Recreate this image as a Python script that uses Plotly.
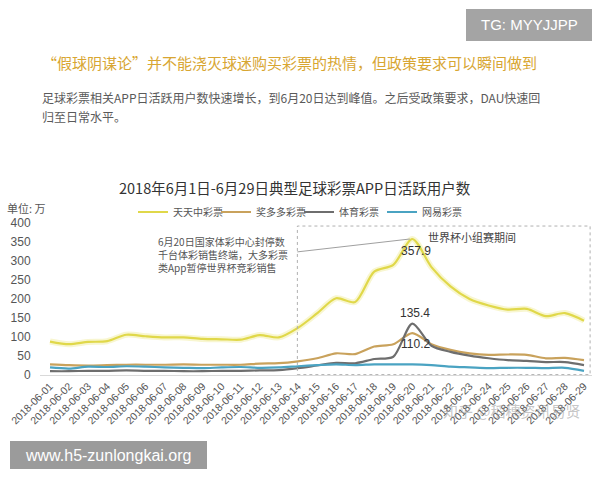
import plotly.graph_objects as go

dates = ["2018-06-01", "2018-06-02", "2018-06-03", "2018-06-04", "2018-06-05",
         "2018-06-06", "2018-06-07", "2018-06-08", "2018-06-09", "2018-06-10",
         "2018-06-11", "2018-06-12", "2018-06-13", "2018-06-14", "2018-06-15",
         "2018-06-16", "2018-06-17", "2018-06-18", "2018-06-19", "2018-06-20",
         "2018-06-21", "2018-06-22", "2018-06-23", "2018-06-24", "2018-06-25",
         "2018-06-26", "2018-06-27", "2018-06-28", "2018-06-29"]

tiantian = [88, 81, 87, 89, 106, 102, 99, 99, 95, 94, 93, 105, 99, 124, 162,
            202, 192, 272, 290, 357.9, 284, 233, 200, 183, 172, 174, 155, 163, 143]
jiangduoduo = [28, 26, 25, 26, 27, 27, 27, 28, 27, 27, 27, 30, 31, 36, 44,
               57, 55, 75, 81, 110.2, 81, 66, 57, 53, 54, 53, 44, 45, 39]
tiyu = [10, 10, 11, 11, 12, 11, 11, 10, 10, 11, 11, 12, 13, 18, 25,
        32, 31, 42, 48, 135.4, 77, 61, 51, 44, 39, 37, 34, 34, 26]
wangyi = [20, 17, 22, 21, 23, 22, 20, 19, 18, 20, 21, 19, 20, 23, 26,
          28, 26, 28, 28, 28, 26, 22, 20, 18, 19, 19, 18, 19, 11]

series_names = ["天天中彩票", "奖多多彩票", "体育彩票", "网易彩票"]
series_colors = ["#e0d84a", "#c9a25c", "#6e6e6e", "#4aa3c2"]
series_values = [tiantian, jiangduoduo, tiyu, wangyi]

y_ticks = [0, 50, 100, 150, 200, 250, 300, 350, 400]

CJK = "Noto Sans CJK SC"
LAT = "Liberation Sans, Noto Sans CJK SC"

# layout geometry (pixels)
L, R, T, B = 40, 8, 223, 105
W, H = 600, 480
PW = W - L - R
PH = H - T - B


def px(x):
    return (x - L) / PW


def py(y):
    return (H - B - y) / PH


fig = go.Figure()

# soft glow under the yellow line
fig.add_trace(go.Scatter(x=dates, y=tiantian, mode="lines", showlegend=False,
                         hoverinfo="skip",
                         line=dict(color="rgba(235,230,120,0.35)", width=6,
                                   shape="spline", smoothing=0.8)))

for name, color, vals in zip(series_names, series_colors, series_values):
    fig.add_trace(go.Scatter(x=dates, y=vals, mode="lines", name=name,
                             line=dict(color=color, width=2.2,
                                       shape="spline", smoothing=0.8)))

peak_i = tiantian.index(max(tiantian))
box_start = dates.index("2018-06-14") - 0.03

shapes = [
    # world cup group stage dashed box
    dict(type="rect", xref="x", yref="y", x0=box_start, x1=len(dates) - 1 + 0.32,
         y0=1, y1=392, line=dict(color="#b0b0b0", width=1, dash="dot")),
    # leader line from box edge to peak
    dict(type="line", xref="x", yref="y", x0=box_start, y0=324,
         x1=peak_i - 0.13, y1=max(tiantian), line=dict(color="#a0a0a0", width=1)),
    # top-right watermark box
    dict(type="rect", xref="paper", yref="paper", x0=px(466), x1=px(592),
         y0=py(41), y1=py(9), fillcolor="#a4a4a4", line=dict(width=0), layer="below"),
    # bottom-left watermark box
    dict(type="rect", xref="paper", yref="paper", x0=px(10), x1=px(207),
         y0=py(469), y1=py(441), fillcolor="#9b9b9b", line=dict(width=0), layer="below"),
]

annotations = [
    dict(x=px(529), y=py(25), text="TG: MYYJJPP", font=dict(size=15, color="white", family=LAT)),
    dict(x=px(40), y=py(62), xanchor="left",
         text="“假球阴谋论”并不能浇灭球迷购买彩票的热情，但政策要求可以瞬间做到",
         font=dict(size=15, color="#d8a632", family=CJK)),
    dict(x=px(40), y=py(97), xanchor="left",
         text="足球彩票相关APP日活跃用户数快速增长，到6月20日达到峰值。之后受政策要求，DAU快速回",
         font=dict(size=12, color="#5a5a5a", family=CJK)),
    dict(x=px(40), y=py(116), xanchor="left", text="归至日常水平。",
         font=dict(size=12, color="#5a5a5a", family=CJK)),
    dict(x=px(295), y=py(187), text="2018年6月1日-6月29日典型足球彩票APP日活跃用户数",
         font=dict(size=14.5, color="#333333", family=CJK)),
    dict(x=px(5), y=py(208), xanchor="left", text="单位: 万",
         font=dict(size=11, color="#555555", family=CJK)),
    dict(x=px(156), y=py(254), xanchor="left", align="left",
         text="6月20日国家体彩中心封停数<br>千台体彩销售终端，大多彩票<br>类App暂停世界杯竞彩销售",
         font=dict(size=10, color="#555555", family=CJK)),
    dict(x=px(472), y=py(237), text="世界杯小组赛期间",
         font=dict(size=11, color="#444444", family=CJK)),
    dict(x=dates[peak_i], y=max(tiantian), xref="x", yref="y", yshift=-12, xshift=4,
         text=str(max(tiantian)), font=dict(size=12, color="#333333", family=LAT)),
    dict(x=dates[tiyu.index(max(tiyu))], y=max(tiyu), xref="x", yref="y", yshift=11, xshift=3,
         text=str(max(tiyu)), font=dict(size=12, color="#333333", family=LAT)),
    dict(x=dates[jiangduoduo.index(max(jiangduoduo))], y=max(jiangduoduo), xref="x", yref="y",
         yshift=-11, xshift=3,
         text=str(max(jiangduoduo)), font=dict(size=12, color="#333333", family=LAT)),
    dict(x=px(512), y=py(410), text="知乎 @稻穗资讯易贤",
         font=dict(size=15, color="rgba(150,150,150,0.55)", family=CJK)),
    dict(x=px(108), y=py(455), text="www.h5-zunlongkai.org",
         font=dict(size=16, color="white", family=LAT)),
]
for a in annotations:
    a.setdefault("xref", "paper")
    a.setdefault("yref", "paper")
    a.setdefault("showarrow", False)
    a.setdefault("xanchor", "center")
    a.setdefault("yanchor", "middle")

fig.update_layout(
    width=W, height=H,
    margin=dict(l=L, r=R, t=T, b=B, pad=0),
    paper_bgcolor="white", plot_bgcolor="white",
    font=dict(family=LAT, color="#555555"),
    showlegend=True,
    legend=dict(orientation="h", x=px(133), xanchor="left", y=py(212), yanchor="middle",
                font=dict(size=10, color="#555555", family=CJK),
                itemwidth=30, entrywidth=38, bgcolor="rgba(0,0,0,0)", tracegroupgap=0),
    shapes=shapes,
    annotations=annotations,
    xaxis=dict(type="category", range=[-10 / 19.07, 28 + 8 / 19.07],
               tickmode="array", tickvals=dates, ticktext=dates,
               tickangle=-45, tickfont=dict(size=10.5, color="#555555", family=LAT),
               showgrid=False, zeroline=False, showline=True, linecolor="#d9d9d9",
               linewidth=1, ticks=""),
    yaxis=dict(range=[0, 400], tickvals=y_ticks, showgrid=False, zeroline=False,
               showline=False, ticks="outside", ticklen=6, tickcolor="rgba(0,0,0,0)",
               tickfont=dict(size=12, color="#555555", family=LAT)),
)

fig.write_html("out.html")
